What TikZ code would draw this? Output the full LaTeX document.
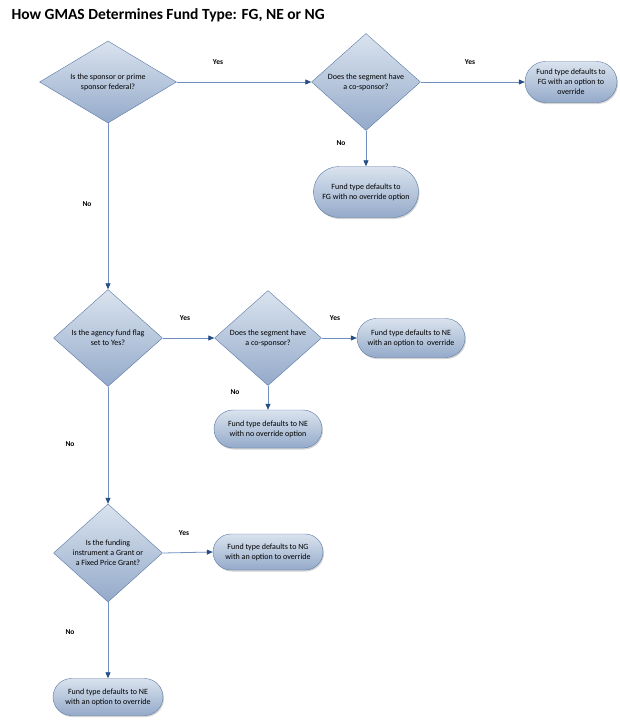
\documentclass[tikz,border=0pt]{standalone}
\usepackage{fontspec}
\setmainfont{Carlito}
\usetikzlibrary{shapes.geometric, shapes.misc, arrows.meta, shadows}
\definecolor{gmastop}{HTML}{DAE3EE}
\definecolor{gmasbot}{HTML}{94AACA}
\definecolor{gmasedge}{HTML}{5A79A5}
\definecolor{gmasline}{HTML}{7090BE}
\definecolor{gmastip}{HTML}{264F86}
\begin{document}
\begin{tikzpicture}[x=1pt, y=-1pt,
  every node/.style={font=\fontsize{8}{10}\selectfont, align=center},
  decision/.style={diamond, draw=gmasedge, top color=gmastop, bottom color=gmasbot, inner sep=0pt},
  outcome/.style={rounded rectangle, draw=gmasedge, top color=gmastop, bottom color=gmasbot, inner sep=0pt, drop shadow={shadow xshift=1pt, shadow yshift=-1.5pt, opacity=0.35}},
  flow/.style={draw=gmasline, line width=0.8pt, -{Triangle[length=6pt, width=5pt, color=gmastip]}},
  answer/.style={font=\fontsize{7.5}{8}\selectfont\bfseries}]
\useasboundingbox (0,0) rectangle (619,720);
\node (title) at (8,15) [anchor=west, font=\fontsize{15.5}{17}\selectfont\bfseries] {How GMAS Determines Fund Type: FG, NE or NG};
\node (qfed) at (108,82) [decision, aspect=1.67, minimum width=137pt, minimum height=82pt] {Is the sponsor or prime\\ sponsor federal?};
\node (qcofg) at (366,82) [decision, aspect=1.12, minimum width=109pt, minimum height=97pt] {Does the segment have\\ a co-sponsor?};
\node (fgopt) at (571,82) [outcome, minimum width=92pt, minimum height=41pt] {Fund type defaults to\\ FG with an option to\\ override};
\node (fgfix) at (366,192) [outcome, minimum width=105pt, minimum height=51pt] {Fund type defaults to\\ FG with no override option};
\node (qagency) at (108,338) [decision, aspect=1.12, minimum width=109pt, minimum height=97pt] {Is the agency fund flag\\ set to Yes?};
\node (qcone) at (268,338) [decision, aspect=1.12, minimum width=107pt, minimum height=95pt] {Does the segment have\\ a co-sponsor?};
\node (neopt) at (411,338) [outcome, minimum width=108pt, minimum height=39pt] {Fund type defaults to NE\\ with an option to~ override};
\node (nefix) at (268,429) [outcome, minimum width=108pt, minimum height=38pt] {Fund type defaults to NE\\ with no override option};
\node (qgrant) at (108,553) [decision, aspect=1.11, minimum width=109pt, minimum height=98pt] {Is the funding\\ instrument a Grant or\\ a Fixed Price Grant?};
\node (ngopt) at (268,552) [outcome, minimum width=110pt, minimum height=36pt] {Fund type defaults to NG\\ with an option to override};
\node (nedef) at (108,697) [outcome, minimum width=110pt, minimum height=37pt] {Fund type defaults to NE\\ with an option to override};
\draw [flow] (qfed.east) -- (qcofg.west);
\draw [flow] (qcofg.east) -- (fgopt.west);
\draw [flow] (qcofg.south) -- (fgfix.north);
\draw [flow] (qfed.south) -- (qagency.north);
\draw [flow] (qagency.east) -- (qcone.west);
\draw [flow] (qcone.east) -- (neopt.west);
\draw [flow] (qcone.south) -- (nefix.north);
\draw [flow] (qagency.south) -- (qgrant.north);
\draw [flow] (qgrant.east) -- (ngopt.west);
\draw [flow] (qgrant.south) -- (nedef.north);
\node (yfed) at (218,62) [answer] {Yes};
\node (yfg) at (470,62) [answer] {Yes};
\node (nfg) at (341,143) [answer] {No};
\node (nfed) at (87,204) [answer] {No};
\node (yagency) at (185,318) [answer] {Yes};
\node (yne) at (335,318) [answer] {Yes};
\node (nne) at (235,392) [answer] {No};
\node (nagency) at (70,444) [answer] {No};
\node (ygrant) at (184,533) [answer] {Yes};
\node (ngrant) at (70,632) [answer] {No};
\end{tikzpicture}
\end{document}
